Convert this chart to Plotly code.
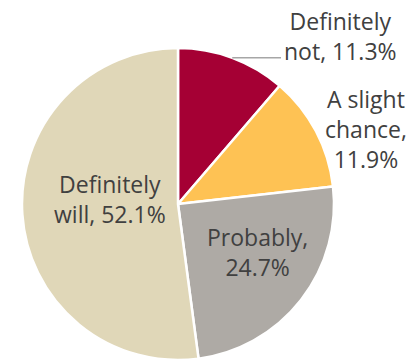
import math
import plotly.graph_objects as go

labels = ["Definitely not", "A slight chance", "Probably", "Definitely will"]
values = [11.3, 11.9, 24.7, 52.1]
label_text = ["Definitely<br>not, 11.3%", "A slight<br>chance,<br>11.9%", "Probably,<br>24.7%", "Definitely<br>will, 52.1%"]
colors = ["#A50034", "#FEC254", "#AEAAA5", "#E0D7B8"]

W, H = 410, 363
cx, cy, r = 178, 204, 156  # pixels

fig = go.Figure(go.Pie(
    labels=labels, values=values, sort=False, direction="clockwise", rotation=0,
    marker=dict(colors=colors, line=dict(color="white", width=2.5)),
    textinfo="none", hoverinfo="label+percent", showlegend=False,
    domain=dict(x=[(cx - r) / W, (cx + r) / W], y=[(H - cy - r) / H, (H - cy + r) / H]),
))

# label positions (pixel centres)
pos = [(340, 36), (366, 129), (257, 252), (110, 199)]
font = dict(family="Open Sans, sans-serif", size=23, color="#404040")
for t, (x, y) in zip(label_text, pos):
    fig.add_annotation(x=x / W, y=1 - y / H, xref="paper", yref="paper", text=t,
                       showarrow=False, font=font, align="center",
                       xanchor="center", yanchor="middle")

# leader line for first slice, starting at its mid-angle on the arc
ang = math.radians(values[0] / sum(values) * 360 / 2)
x0 = cx + r * math.sin(ang)
y0 = cy - r * math.cos(ang)
fig.add_shape(type="line", xref="paper", yref="paper",
              x0=x0 / W, y0=1 - y0 / H, x1=281 / W, y1=1 - y0 / H,
              line=dict(color="#A6A6A6", width=1.5))

fig.update_layout(width=W, height=H, margin=dict(l=0, r=0, t=0, b=0),
                  paper_bgcolor="white", plot_bgcolor="white")
fig.write_html("out.html", config={"displayModeBar": False},
               post_script="document.body.style.margin='0';document.body.style.overflow='hidden';")
